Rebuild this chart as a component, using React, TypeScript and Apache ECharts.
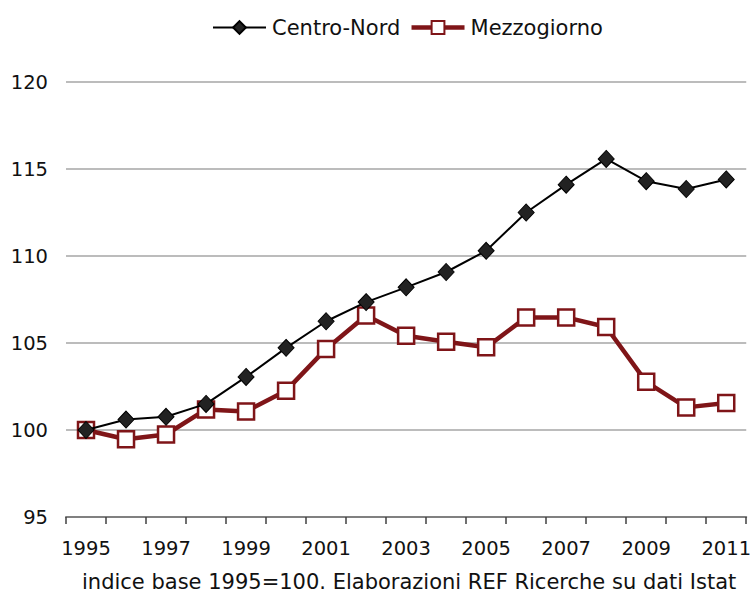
import React, { useEffect, useRef } from "react";
import * as echarts from "echarts";

const years = ["1995","1996","1997","1998","1999","2000","2001","2002","2003","2004","2005","2006","2007","2008","2009","2010","2011"];
const centroNord = [100, 100.6, 100.76, 101.5, 103.05, 104.72, 106.25, 107.35, 108.2, 109.08, 110.3, 112.5, 114.1, 115.58, 114.3, 113.85, 114.4];
const mezzogiorno = [100, 99.47, 99.74, 101.18, 101.07, 102.26, 104.66, 106.58, 105.42, 105.07, 104.75, 106.47, 106.47, 105.92, 102.77, 101.3, 101.55];
const yTicks = { min: 95, max: 120, interval: 5 };
const footnote = "indice base 1995=100. Elaborazioni REF Ricerche su dati Istat";

const FONT = "'DejaVu Sans', Verdana, sans-serif";
const RED = "#7f1518";

export default function App() {
  const ref = useRef<HTMLDivElement>(null);
  useEffect(() => {
    if (!ref.current) return;
    const chart = echarts.init(ref.current, null, { renderer: "svg" });
    chart.setOption({
      animation: false,
      backgroundColor: "#ffffff",
      textStyle: { fontFamily: FONT },
      legend: {
        top: 12,
        left: 207,
        itemWidth: 53,
        itemHeight: 16,
        itemGap: 9,
        textStyle: { fontFamily: FONT, fontSize: 21, color: "#111111", padding: [0, 0, 0, 1] },
        data: [
          { name: "Centro-Nord", lineStyle: { width: 2 } },
          { name: "Mezzogiorno", lineStyle: { width: 4.5 } },
        ],
      },
      grid: { left: 66, right: 6, top: 82, bottom: 75, containLabel: false },
      xAxis: {
        type: "category",
        data: years,
        boundaryGap: true,
        axisLine: { show: true, lineStyle: { color: "#808080", width: 2 } },
        axisTick: { show: true, interval: 0, length: 7, lineStyle: { color: "#404040", width: 1.5 } },
        axisLabel: { interval: 1, fontSize: 19.5, color: "#111111", fontFamily: FONT, margin: 21, showMaxLabel: true },
        splitLine: { show: false },
      },
      yAxis: {
        type: "value",
        min: yTicks.min,
        max: yTicks.max,
        interval: yTicks.interval,
        axisLine: { show: false },
        axisTick: { show: false },
        axisLabel: { fontSize: 19.5, color: "#111111", fontFamily: FONT, margin: 18 },
        splitLine: { lineStyle: { color: "#a6a6a6", width: 1.5 } },
      },
      graphic: [
        {
          type: "text",
          left: 82,
          top: 571,
          style: { text: footnote, fontSize: 21, fontFamily: FONT, fill: "#111111" },
        },
      ],
      series: [
        {
          name: "Centro-Nord",
          type: "line",
          data: centroNord,
          symbol: "diamond",
          symbolSize: [16, 17],
          lineStyle: { color: "#000000", width: 2 },
          itemStyle: { color: "#222222", borderColor: "#000000", borderWidth: 1 },
          z: 3,
        },
        {
          name: "Mezzogiorno",
          type: "line",
          data: mezzogiorno,
          symbol: "rect",
          symbolSize: 16,
          lineStyle: { color: RED, width: 4.5 },
          itemStyle: { color: "#ffffff", borderColor: RED, borderWidth: 2.5 },
          z: 2,
        },
      ],
    });
    return () => chart.dispose();
  }, []);
  return <div ref={ref} style={{ width: 754, height: 592, position: "absolute", left: 0, top: 0 }} />;
}
